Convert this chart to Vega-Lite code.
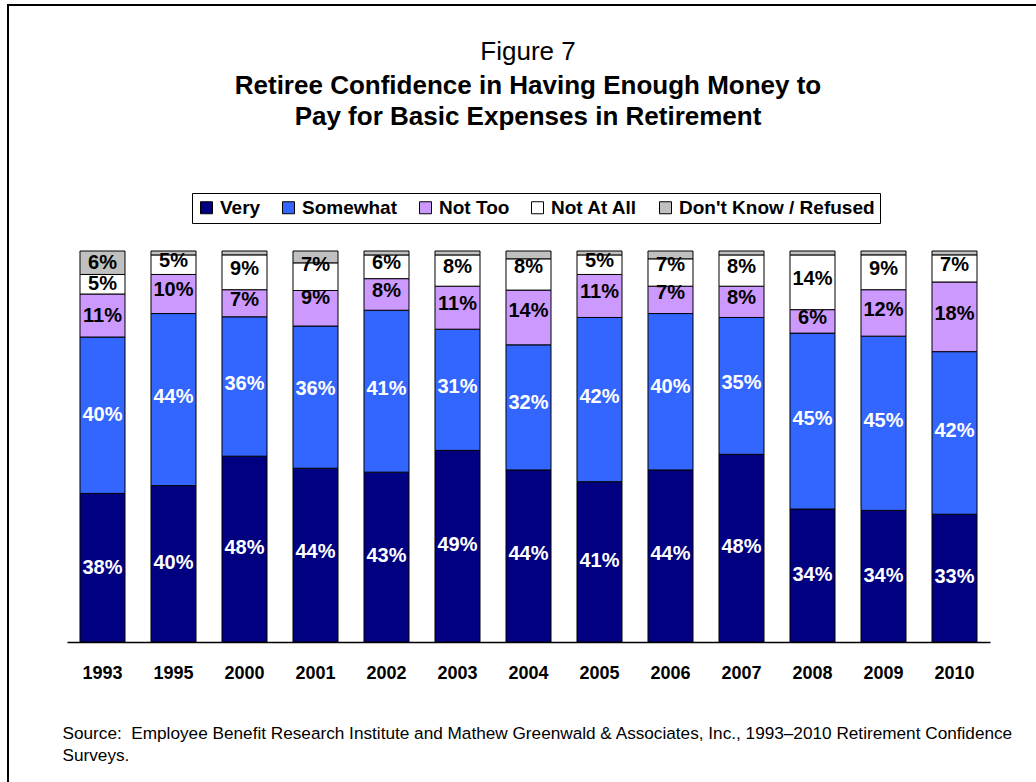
{
  "$schema": "https://vega.github.io/schema/vega-lite/v6.json",
  "autosize": "none",
  "padding": {"left": 8, "top": 5, "right": 0, "bottom": 0},
  "width": 1040,
  "height": 790,
  "background": "white",
  "config": {
    "view": {"stroke": "black", "strokeWidth": 2, "fill": "white"},
    "font": "Liberation Sans"
  },
  "title": {
    "text": "Figure 7",
    "subtitle": ["Retiree Confidence in Having Enough Money to", "Pay for Basic Expenses in Retirement"],
    "anchor": "middle",
    "frame": "group",
    "orient": "top",
    "offset": -125,
    "font": "Liberation Sans",
    "fontSize": 26,
    "fontWeight": "normal",
    "color": "black",
    "subtitleFont": "Liberation Sans",
    "subtitleFontSize": 26,
    "subtitleFontWeight": "bold",
    "subtitleColor": "black",
    "subtitlePadding": 8,
    "subtitleLineHeight": 31
  },
  "data": {
    "values": [
      {"year": "1993", "cat": "Very", "o": 1, "v": 0.38},
      {"year": "1993", "cat": "Somewhat", "o": 2, "v": 0.40},
      {"year": "1993", "cat": "Not Too", "o": 3, "v": 0.11},
      {"year": "1993", "cat": "Not At All", "o": 4, "v": 0.05},
      {"year": "1993", "cat": "Don't Know / Refused", "o": 5, "v": 0.06},
      {"year": "1995", "cat": "Very", "o": 1, "v": 0.40},
      {"year": "1995", "cat": "Somewhat", "o": 2, "v": 0.44},
      {"year": "1995", "cat": "Not Too", "o": 3, "v": 0.10},
      {"year": "1995", "cat": "Not At All", "o": 4, "v": 0.05},
      {"year": "1995", "cat": "Don't Know / Refused", "o": 5, "v": 0.01},
      {"year": "2000", "cat": "Very", "o": 1, "v": 0.48},
      {"year": "2000", "cat": "Somewhat", "o": 2, "v": 0.36},
      {"year": "2000", "cat": "Not Too", "o": 3, "v": 0.07},
      {"year": "2000", "cat": "Not At All", "o": 4, "v": 0.09},
      {"year": "2000", "cat": "Don't Know / Refused", "o": 5, "v": 0.01},
      {"year": "2001", "cat": "Very", "o": 1, "v": 0.44},
      {"year": "2001", "cat": "Somewhat", "o": 2, "v": 0.36},
      {"year": "2001", "cat": "Not Too", "o": 3, "v": 0.09},
      {"year": "2001", "cat": "Not At All", "o": 4, "v": 0.07},
      {"year": "2001", "cat": "Don't Know / Refused", "o": 5, "v": 0.03},
      {"year": "2002", "cat": "Very", "o": 1, "v": 0.43},
      {"year": "2002", "cat": "Somewhat", "o": 2, "v": 0.41},
      {"year": "2002", "cat": "Not Too", "o": 3, "v": 0.08},
      {"year": "2002", "cat": "Not At All", "o": 4, "v": 0.06},
      {"year": "2002", "cat": "Don't Know / Refused", "o": 5, "v": 0.01},
      {"year": "2003", "cat": "Very", "o": 1, "v": 0.49},
      {"year": "2003", "cat": "Somewhat", "o": 2, "v": 0.31},
      {"year": "2003", "cat": "Not Too", "o": 3, "v": 0.11},
      {"year": "2003", "cat": "Not At All", "o": 4, "v": 0.08},
      {"year": "2003", "cat": "Don't Know / Refused", "o": 5, "v": 0.01},
      {"year": "2004", "cat": "Very", "o": 1, "v": 0.44},
      {"year": "2004", "cat": "Somewhat", "o": 2, "v": 0.32},
      {"year": "2004", "cat": "Not Too", "o": 3, "v": 0.14},
      {"year": "2004", "cat": "Not At All", "o": 4, "v": 0.08},
      {"year": "2004", "cat": "Don't Know / Refused", "o": 5, "v": 0.02},
      {"year": "2005", "cat": "Very", "o": 1, "v": 0.41},
      {"year": "2005", "cat": "Somewhat", "o": 2, "v": 0.42},
      {"year": "2005", "cat": "Not Too", "o": 3, "v": 0.11},
      {"year": "2005", "cat": "Not At All", "o": 4, "v": 0.05},
      {"year": "2005", "cat": "Don't Know / Refused", "o": 5, "v": 0.01},
      {"year": "2006", "cat": "Very", "o": 1, "v": 0.44},
      {"year": "2006", "cat": "Somewhat", "o": 2, "v": 0.40},
      {"year": "2006", "cat": "Not Too", "o": 3, "v": 0.07},
      {"year": "2006", "cat": "Not At All", "o": 4, "v": 0.07},
      {"year": "2006", "cat": "Don't Know / Refused", "o": 5, "v": 0.02},
      {"year": "2007", "cat": "Very", "o": 1, "v": 0.48},
      {"year": "2007", "cat": "Somewhat", "o": 2, "v": 0.35},
      {"year": "2007", "cat": "Not Too", "o": 3, "v": 0.08},
      {"year": "2007", "cat": "Not At All", "o": 4, "v": 0.08},
      {"year": "2007", "cat": "Don't Know / Refused", "o": 5, "v": 0.01},
      {"year": "2008", "cat": "Very", "o": 1, "v": 0.34},
      {"year": "2008", "cat": "Somewhat", "o": 2, "v": 0.45},
      {"year": "2008", "cat": "Not Too", "o": 3, "v": 0.06},
      {"year": "2008", "cat": "Not At All", "o": 4, "v": 0.14},
      {"year": "2008", "cat": "Don't Know / Refused", "o": 5, "v": 0.01},
      {"year": "2009", "cat": "Very", "o": 1, "v": 0.34},
      {"year": "2009", "cat": "Somewhat", "o": 2, "v": 0.45},
      {"year": "2009", "cat": "Not Too", "o": 3, "v": 0.12},
      {"year": "2009", "cat": "Not At All", "o": 4, "v": 0.09},
      {"year": "2009", "cat": "Don't Know / Refused", "o": 5, "v": 0.01},
      {"year": "2010", "cat": "Very", "o": 1, "v": 0.33},
      {"year": "2010", "cat": "Somewhat", "o": 2, "v": 0.42},
      {"year": "2010", "cat": "Not Too", "o": 3, "v": 0.18},
      {"year": "2010", "cat": "Not At All", "o": 4, "v": 0.07},
      {"year": "2010", "cat": "Don't Know / Refused", "o": 5, "v": 0.01}
    ]
  },
  "encoding": {
    "x": {
      "field": "year",
      "type": "ordinal",
      "sort": null,
      "scale": {"range": [59, 982], "paddingInner": 0.366, "paddingOuter": 0.183},
      "axis": {
        "offset": -153,
        "domainColor": "black",
        "domainWidth": 1.5,
        "ticks": false,
        "grid": false,
        "labelAngle": 0,
        "labelFont": "Liberation Sans",
        "labelFontSize": 18,
        "labelFontWeight": "bold",
        "labelColor": "black",
        "labelPadding": 22,
        "title": ["Source:\u00a0 Employee Benefit Research Institute and Mathew Greenwald & Associates, Inc., 1993\u20132010 Retirement Confidence", "Surveys."],
        "titleFont": "Liberation Sans",
        "titleFontSize": 17.2,
        "titleFontWeight": "normal",
        "titleColor": "black",
        "titleAnchor": "start",
        "titleAlign": "left",
        "titleBaseline": "alphabetic",
        "titleX": 54,
        "titleY": 96,
        "titleLineHeight": 22
      }
    },
    "y": {
      "field": "v",
      "type": "quantitative",
      "stack": "normalize",
      "scale": {"domain": [0, 1], "range": [637, 246], "nice": false},
      "axis": null
    },
    "order": {"field": "o", "type": "quantitative"}
  },
  "layer": [
    {
      "mark": {"type": "bar", "stroke": "black", "strokeWidth": 1},
      "encoding": {
        "color": {
          "field": "cat",
          "type": "nominal",
          "scale": {
            "domain": ["Very", "Somewhat", "Not Too", "Not At All", "Don't Know / Refused"],
            "range": ["#000080", "#3366FF", "#CC99FF", "#FFFFFF", "#C0C0C0"]
          },
          "legend": {
            "orient": "none",
            "legendX": 184,
            "legendY": 188,
            "direction": "horizontal",
            "title": null,
            "strokeColor": "black",
            "fillColor": "white",
            "padding": 5,
            "symbolType": "square",
            "symbolSize": 144,
            "symbolStrokeColor": "black",
            "symbolStrokeWidth": 1,
            "symbolOpacity": 1,
            "labelFont": "Liberation Sans",
            "labelFontSize": 19,
            "labelFontWeight": "bold",
            "labelColor": "black",
            "labelOffset": 4,
            "columnPadding": 18,
            "labelLimit": 400
          }
        }
      }
    },
    {
      "transform": [
        {"filter": {"or": [{"not": {"field": "cat", "equal": "Don't Know / Refused"}}, {"field": "year", "equal": "1993"}]}}
      ],
      "mark": {"type": "text", "font": "Liberation Sans", "fontSize": 20, "fontWeight": "bold", "align": "center", "baseline": "middle"},
      "encoding": {
        "y": {
          "field": "v",
          "type": "quantitative",
          "stack": "normalize",
          "bandPosition": 0.5
        },
        "text": {"field": "v", "type": "quantitative", "format": ".0%"},
        "color": {
          "condition": {"test": "datum.cat === 'Very' || datum.cat === 'Somewhat'", "value": "white"},
          "value": "black"
        }
      }
    }
  ]
}
